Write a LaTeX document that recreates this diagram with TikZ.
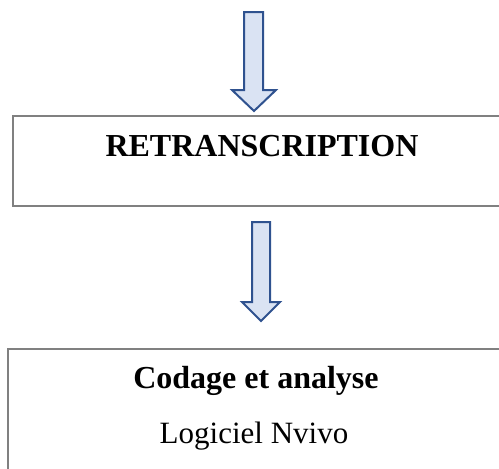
\documentclass[tikz,border=0pt]{standalone}
\usepackage{fontspec}
\setmainfont{Liberation Serif}
\definecolor{arrowfill}{HTML}{DAE3F3}
\definecolor{arrowline}{HTML}{2F528F}
\definecolor{boxline}{HTML}{808080}
\tikzset{
  blockarrow/.style={fill=arrowfill, draw=arrowline, line width=2pt, line join=miter},
  stepbox/.style={draw=boxline, line width=2pt},
  boldlabel/.style={inner sep=0pt, anchor=base, font=\fontsize{32}{36}\selectfont\bfseries},
  plainlabel/.style={inner sep=0pt, anchor=base, font=\fontsize{31}{36}\selectfont}
}
\begin{document}
\begin{tikzpicture}[x=1pt,y=-1pt]
\useasboundingbox (0,0) rectangle (499,469);
\clip (0,0) rectangle (499,469);
% top block arrow
\draw[blockarrow] (244,12) -- (263,12) -- (263,90) -- (276,90) -- (254,111) -- (232,90) -- (244,90) -- cycle;
% box 1
\draw[stepbox] (13,116) rectangle (520,206);
\node[boldlabel] (retr) at (262,156) {RETRANSCRIPTION};
% second block arrow
\draw[blockarrow] (252,222) -- (270,222) -- (270,302) -- (280,302) -- (261,321) -- (242,302) -- (252,302) -- cycle;
% box 2
\draw[stepbox] (8,349) rectangle (520,500);
\node[boldlabel] (cod) at (256,388) {Codage et analyse};
\node[plainlabel] (log) at (254,443) {Logiciel Nvivo};
\end{tikzpicture}
\end{document}
